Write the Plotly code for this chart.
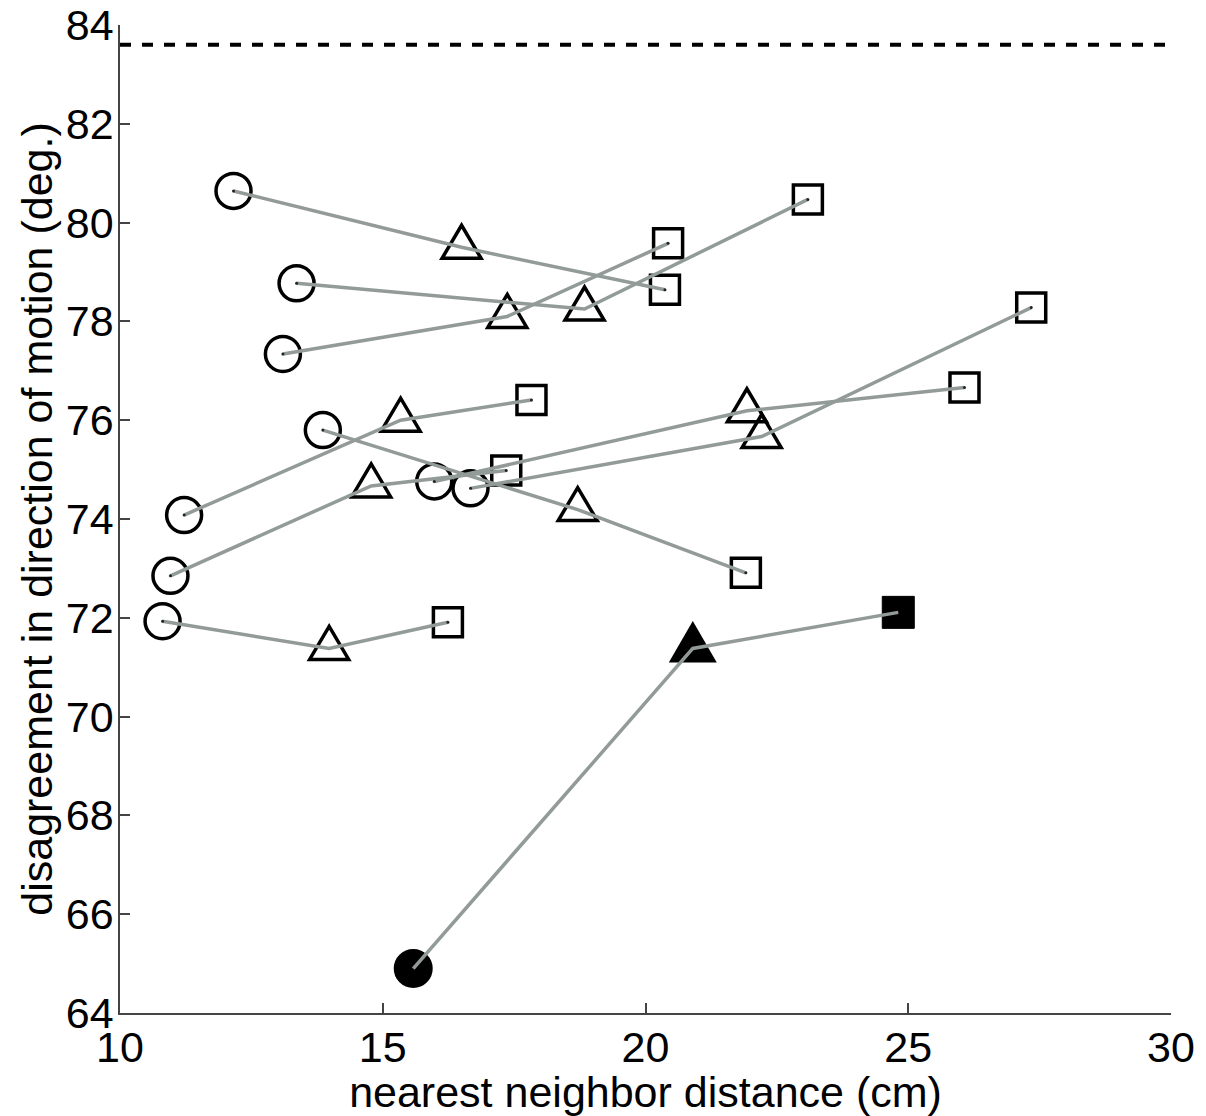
import plotly.graph_objects as go

# ---- data ----
circle_x = [12.16, 13.36, 13.10, 11.22, 10.96, 15.98, 16.67, 13.86, 10.81]
circle_y = [80.64, 78.77, 77.34, 74.08, 72.85, 74.76, 74.62, 75.80, 71.93]
tri_x = [16.50, 18.84, 17.37, 15.34, 14.78, 21.93, 22.21, 18.71, 13.98]
tri_y = [79.50, 78.25, 78.10, 76.00, 74.67, 76.19, 75.67, 74.19, 71.38]
sq_x = [20.37, 23.09, 20.43, 17.83, 17.35, 26.07, 27.34, 21.91, 16.24]
sq_y = [78.64, 80.47, 79.58, 76.41, 74.98, 76.66, 78.28, 72.91, 71.91]

filled_x = [15.58, 20.90, 24.81]   # circle, triangle, square
filled_y = [64.90, 71.38, 72.11]

ref_level = 83.6
x_range = [10, 30]
y_range = [64, 84]
x_ticks = [10, 15, 20, 25, 30]
y_ticks = [64, 66, 68, 70, 72, 74, 76, 78, 80, 82, 84]

GRAY = "#929b98"
FONT = "Liberation Sans, Arial, Helvetica, sans-serif"

fig = go.Figure()

# open circles & squares
fig.add_trace(go.Scatter(x=circle_x, y=circle_y, mode="markers",
                         marker=dict(symbol="circle", size=35, color="rgba(0,0,0,0)",
                                     line=dict(color="black", width=3.5)),
                         hoverinfo="skip", showlegend=False))
fig.add_trace(go.Scatter(x=sq_x, y=sq_y, mode="markers",
                         marker=dict(symbol="square", size=29, color="rgba(0,0,0,0)",
                                     line=dict(color="black", width=3.5)),
                         hoverinfo="skip", showlegend=False))
# filled circle / square
fig.add_trace(go.Scatter(x=[filled_x[0]], y=[filled_y[0]], mode="markers",
                         marker=dict(symbol="circle", size=37, color="black",
                                     line=dict(color="black", width=2)),
                         hoverinfo="skip", showlegend=False))
fig.add_trace(go.Scatter(x=[filled_x[2]], y=[filled_y[2]], mode="markers",
                         marker=dict(symbol="square", size=32, color="black",
                                     line=dict(color="black", width=1)),
                         hoverinfo="skip", showlegend=False))

# triangles as pixel-sized equilateral paths anchored at data points
OPEN_TRI = "M -19.5,-11 L 19.5,-11 L 0,22 Z"
FILLED_TRI = "M -24,-14 L 24,-14 L 0,27.5 Z"
for tx, ty in zip(tri_x, tri_y):
    fig.add_shape(type="path", xref="x", yref="y", xsizemode="pixel", ysizemode="pixel",
                  xanchor=tx, yanchor=ty, path=OPEN_TRI,
                  line=dict(color="black", width=3.5), fillcolor="rgba(0,0,0,0)", layer="below")
fig.add_shape(type="path", xref="x", yref="y", xsizemode="pixel", ysizemode="pixel",
              xanchor=filled_x[1], yanchor=filled_y[1], path=FILLED_TRI,
              line=dict(color="black", width=0), fillcolor="black", layer="below")

# connecting gray lines (circle -> triangle -> square)
all_groups = list(zip(circle_x, tri_x, sq_x, circle_y, tri_y, sq_y))
all_groups.append((filled_x[0], filled_x[1], filled_x[2], filled_y[0], filled_y[1], filled_y[2]))
for cx, tx, sx, cy, ty, sy in all_groups:
    fig.add_trace(go.Scatter(x=[cx, tx, sx], y=[cy, ty, sy], mode="lines",
                             line=dict(color=GRAY, width=3.5),
                             hoverinfo="skip", showlegend=False))

# tiny end dots
fig.add_trace(go.Scatter(x=circle_x + sq_x, y=circle_y + sq_y, mode="markers",
                         marker=dict(size=3, color="#222"), hoverinfo="skip", showlegend=False))

# dashed reference line
fig.add_trace(go.Scatter(x=x_range, y=[ref_level, ref_level], mode="lines",
                         line=dict(color="black", width=4, dash="11px,11px"),
                         hoverinfo="skip", showlegend=False))

axis_common = dict(showgrid=False, zeroline=False, showline=True, linecolor="#444",
                   linewidth=1.5, ticks="inside", ticklen=10, tickwidth=1.5, tickcolor="#444",
                   mirror=False, automargin=False,
                   tickfont=dict(family=FONT, size=43, color="black"))

fig.update_layout(
    width=1206, height=1116,
    margin=dict(l=120, r=35, t=25, b=103),
    paper_bgcolor="white", plot_bgcolor="white",
    xaxis=dict(range=x_range, tickvals=x_ticks, ticklabelstandoff=-4,
               title=dict(text="nearest neighbor distance (cm)",
                          font=dict(family=FONT, size=43, color="black"), standoff=0),
               **axis_common),
    yaxis=dict(range=y_range, tickvals=y_ticks, ticklabelstandoff=-4,
               title=dict(text="disagreement in direction of motion (deg.)",
                          font=dict(family=FONT, size=43, color="black"), standoff=0),
               **axis_common),
)

fig.write_html("out.html")
